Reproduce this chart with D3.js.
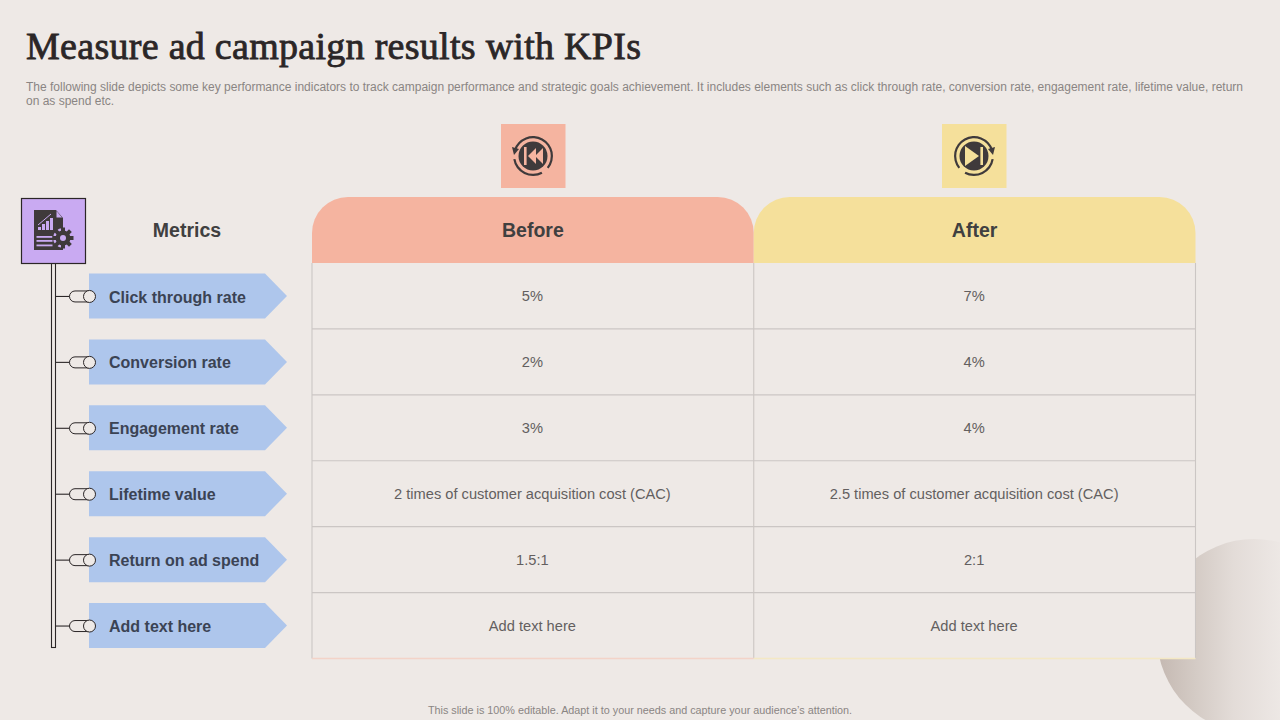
<!DOCTYPE html>
<html>
<head>
<meta charset="utf-8">
<title>Measure ad campaign results with KPIs</title>
<script src="https://cdn.jsdelivr.net/npm/d3@7"></script>
<style>
    html, body { margin: 0; padding: 0; background: #eee9e6; }
    svg { display: block; }
    text { font-family: "Liberation Sans", Arial, sans-serif; }
</style>
</head>
<body>
<div id="grafico"></div>
<script>
const metricas = ["Click through rate", "Conversion rate", "Engagement rate", "Lifetime  value", "Return on ad spend", "Add text here"];
const colunas = ["Before", "After"];
const valoresAntes = ["5%", "2%", "3%", "2 times of customer acquisition cost (CAC)", "1.5:1", "Add text here"];
const valoresDepois = ["7%", "4%", "4%", "2.5 times of customer acquisition cost (CAC)", "2:1", "Add text here"];
const coresColunas = ["#f5b4a0", "#f5e09b"];
const coresRodape = ["#f3d3c8", "#f4e8c4"];

const FUNDO = "#eee9e6";
const ESCURO = "#3f3a3b";

const svg = d3.select("#grafico").append("svg").attr("width", 1280).attr("height", 720);
const defs = svg.append("defs");

//Circulo decorativo no canto inferior direito
const gradiente = defs.append("linearGradient").attr("id", "gradienteCanto")
    .attr("gradientUnits", "userSpaceOnUse").attr("x1", 1157).attr("x2", 1285).attr("y1", 0).attr("y2", 0);
gradiente.append("stop").attr("offset", "0%").attr("stop-color", "#c4b8b1");
gradiente.append("stop").attr("offset", "30%").attr("stop-color", "#d4cbc5");
gradiente.append("stop").attr("offset", "60%").attr("stop-color", "#e3dcd8");
gradiente.append("stop").attr("offset", "100%").attr("stop-color", FUNDO);

svg.append("circle").attr("cx", 1254).attr("cy", 636).attr("r", 97).attr("fill", "url(#gradienteCanto)");

//Titulo e subtitulo
svg.append("text").attr("x", 26).attr("y", 59)
    .attr("textLength", 615).attr("lengthAdjust", "spacing")
    .style("font-family", "'Liberation Serif', serif").style("font-size", "38px")
    .attr("fill", "#2b2627").attr("stroke", "#2b2627").attr("stroke-width", 0.8)
    .text("Measure ad campaign results with KPIs");

svg.append("text").attr("x", 26).attr("y", 91)
    .attr("textLength", 1217).attr("lengthAdjust", "spacing")
    .style("font-size", "12px").attr("fill", "#8a8583")
    .text("The following slide depicts some key performance indicators to track campaign performance and strategic goals achievement. It includes elements such as click through rate, conversion rate, engagement rate, lifetime value, return");
svg.append("text").attr("x", 26).attr("y", 105)
    .style("font-size", "12px").attr("fill", "#8a8583")
    .text("on as spend etc.");

svg.append("text").attr("x", 640).attr("y", 714).attr("text-anchor", "middle")
    .style("font-size", "10.8px").attr("fill", "#8a8583")
    .text("This slide is 100% editable.  Adapt it to your needs and capture your audience\u2019s attention.");

//Escalas da tabela
const x = d3.scaleBand().domain(colunas).range([312, 1195.5]);
const y = d3.scaleBand().domain(metricas).range([263, 658.5]);
const meio = d => y(d) + y.bandwidth() / 2;

//Fundo da tabela
svg.append("rect")
    .attr("x", x.range()[0]).attr("y", y.range()[0])
    .attr("width", x.range()[1] - x.range()[0]).attr("height", y.range()[1] - y.range()[0])
    .attr("fill", FUNDO);

//Cabecalhos com cantos arredondados
const raio = 36;
const topo = 197;
svg.selectAll(".cabecalho").data(colunas).join("path")
    .attr("class", "cabecalho")
    .attr("fill", (d, i) => coresColunas[i])
    .attr("d", d => {
        const p = d3.path();
        const x0 = x(d), x1 = x(d) + x.bandwidth(), y1 = y.range()[0];
        p.moveTo(x0, y1);
        p.lineTo(x0, topo + raio);
        p.arcTo(x0, topo, x0 + raio, topo, raio);
        p.lineTo(x1 - raio, topo);
        p.arcTo(x1, topo, x1, topo + raio, raio);
        p.lineTo(x1, y1);
        p.closePath();
        return p.toString();
    });

svg.selectAll(".tituloColuna").data(colunas).join("text")
    .attr("class", "tituloColuna")
    .attr("x", d => x(d) + x.bandwidth() / 2).attr("y", 237)
    .attr("text-anchor", "middle")
    .style("font-size", "19.5px").style("font-weight", "bold").attr("fill", "#404040")
    .text(d => d);

svg.append("text").attr("x", 187).attr("y", 237).attr("text-anchor", "middle")
    .style("font-size", "19.5px").style("font-weight", "bold").attr("fill", "#404040")
    .text("Metrics");

//Linhas da tabela
svg.selectAll(".linhaH").data(metricas.slice(0, -1)).join("line")
    .attr("class", "linhaH")
    .attr("x1", x.range()[0]).attr("x2", x.range()[1])
    .attr("y1", d => y(d) + y.bandwidth()).attr("y2", d => y(d) + y.bandwidth())
    .attr("stroke", "#cbc6c4").attr("stroke-width", 1.1);

svg.selectAll(".linhaV").data([x.range()[0], x("After"), x.range()[1]]).join("line")
    .attr("class", "linhaV")
    .attr("x1", d => d).attr("x2", d => d)
    .attr("y1", y.range()[0]).attr("y2", y.range()[1])
    .attr("stroke", "#cbc6c4").attr("stroke-width", 1.1);

svg.selectAll(".rodapeColuna").data(colunas).join("line")
    .attr("class", "rodapeColuna")
    .attr("x1", d => x(d)).attr("x2", d => x(d) + x.bandwidth())
    .attr("y1", y.range()[1]).attr("y2", y.range()[1])
    .attr("stroke", (d, i) => coresRodape[i]).attr("stroke-width", 1.5);

//Valores das celulas
[valoresAntes, valoresDepois].forEach((valores, c) => {
    svg.selectAll(".celula" + c).data(valores).join("text")
        .attr("class", "celula" + c)
        .attr("x", x(colunas[c]) + x.bandwidth() / 2 - 0.5)
        .attr("y", (d, i) => meio(metricas[i]) + 5.2)
        .attr("text-anchor", "middle")
        .style("font-size", "14.65px").attr("fill", "#635f5f")
        .text(d => d);
});

//Trilho vertical a esquerda
svg.append("rect").attr("x", 51.5).attr("y", 262).attr("width", 4).attr("height", 385.5)
    .attr("fill", FUNDO).attr("stroke", "#2b2627").attr("stroke-width", 1.1);

//Setas das metricas
const linhas = svg.selectAll(".metrica").data(metricas).join("g")
    .attr("class", "metrica")
    .attr("transform", d => `translate(0,${meio(d)})`);

linhas.append("line").attr("x1", 56).attr("x2", 72).attr("y1", 0.5).attr("y2", 0.5)
    .attr("stroke", "#2b2627").attr("stroke-width", 1.1);
linhas.append("rect").attr("x", 69.5).attr("y", -5).attr("width", 26).attr("height", 11).attr("rx", 5.5)
    .attr("fill", FUNDO).attr("stroke", "#2b2627").attr("stroke-width", 1);
linhas.append("path")
    .attr("d", "M89,-22.5H265L287,0L265,22.5H89Z")
    .attr("fill", "#aec6ec");
linhas.append("circle").attr("cx", 89.5).attr("cy", 0.5).attr("r", 6)
    .attr("fill", FUNDO).attr("stroke", "#2b2627").attr("stroke-width", 1);
linhas.append("text").attr("x", 109).attr("y", 6.6)
    .style("font-size", "16px").style("font-weight", "bold").attr("fill", "#3b4354")
    .text(d => d);

//Icone de metricas
const LILAS = "#c9aaf2";
const iconeMetricas = svg.append("g");
iconeMetricas.append("rect").attr("x", 21.5).attr("y", 198.5).attr("width", 64).attr("height", 65)
    .attr("fill", LILAS).attr("stroke", "#2b2627").attr("stroke-width", 1.2);
iconeMetricas.append("path").attr("d", "M34,210H56L63,218V250H34Z").attr("fill", ESCURO);
iconeMetricas.append("path").attr("d", "M56.5,211L62,217.5H56.5Z").attr("fill", LILAS);
[[38, 3], [42, 6], [46, 9], [50, 12]].forEach(([bx, bh]) => {
    iconeMetricas.append("rect").attr("x", bx).attr("y", 230 - bh).attr("width", 3).attr("height", bh).attr("fill", LILAS);
});
iconeMetricas.append("path").attr("d", "M38,225L51,214").attr("stroke", LILAS).attr("stroke-width", 1).attr("fill", "none");
[236, 240, 244.5].forEach(ly => {
    iconeMetricas.append("rect").attr("x", 36.5).attr("y", ly).attr("width", 16).attr("height", 1.8).attr("fill", LILAS);
});
iconeMetricas.append("circle").attr("cx", 63).attr("cy", 238).attr("r", 10).attr("fill", LILAS);
iconeMetricas.selectAll(".dente").data(d3.range(8).map(i => i * 45)).join("rect")
    .attr("class", "dente")
    .attr("x", -2).attr("y", -10.5).attr("width", 4).attr("height", 5)
    .attr("fill", ESCURO)
    .attr("transform", d => `translate(63,238) rotate(${d})`);
iconeMetricas.append("circle").attr("cx", 63).attr("cy", 238).attr("r", 7.5).attr("fill", ESCURO);
iconeMetricas.append("circle").attr("cx", 63).attr("cy", 238).attr("r", 3).attr("fill", LILAS);

//Icones de antes e depois
function desenharIcone(cx, cor, espelhar) {
    const g = svg.append("g");
    g.append("rect").attr("x", cx - 32).attr("y", 124).attr("width", 64.5).attr("height", 64).attr("fill", cor);
    const ic = g.append("g").attr("transform", `translate(${cx},156) scale(${espelhar ? -1 : 1},1)`);
    ic.append("circle").attr("r", 14.5).attr("fill", ESCURO);
    const arco = d3.arc().innerRadius(17.8).outerRadius(20);
    [[-1.25, 2.25], [2.65, 4.55]].forEach(([a0, a1]) => {
        ic.append("path").attr("d", arco({ startAngle: a0, endAngle: a1 })).attr("fill", ESCURO);
    });
    ic.append("path").attr("d", "M-21,-9L-14,-7L-19,-1Z").attr("fill", ESCURO);
    ic.append("rect").attr("x", -9).attr("y", -9).attr("width", 2.6).attr("height", 18).attr("fill", cor);
    if (espelhar) {
        ic.append("path").attr("d", "M-5,0L9,-10V10Z").attr("fill", cor);
    } else {
        ic.append("path").attr("d", "M-5,0L3,-8V8Z").attr("fill", cor);
        ic.append("path").attr("d", "M2,0L10,-8V8Z").attr("fill", cor);
    }
}
desenharIcone(533, coresColunas[0], false);
desenharIcone(974, coresColunas[1], true);
</script>
</body>
</html>
